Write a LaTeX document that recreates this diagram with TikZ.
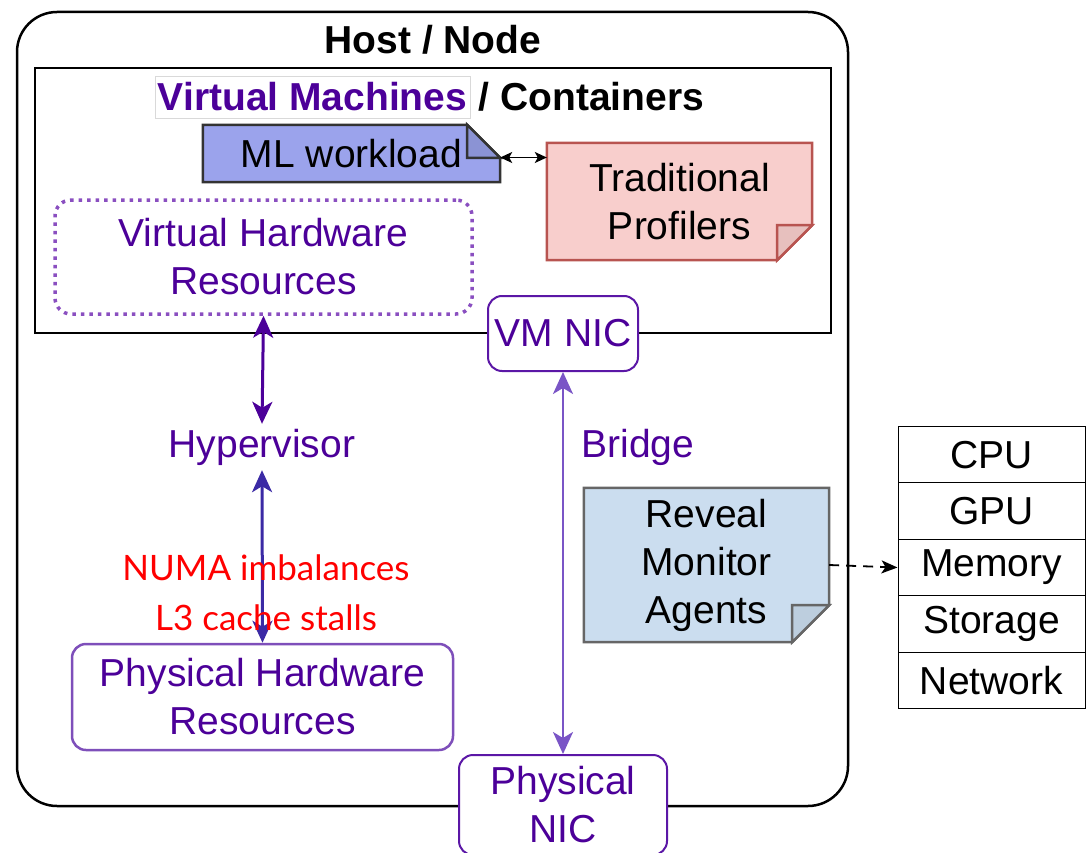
\documentclass[tikz,border=0pt]{standalone}
\usepackage{fontspec}
\setmainfont{Liberation Sans}
\newfontfamily\numafont{Lato}
\usetikzlibrary{arrows.meta,positioning,backgrounds}

\definecolor{vmpurple}{HTML}{4C0099}
\definecolor{dotpurple}{HTML}{8A4FC0}
\definecolor{boxpurple}{HTML}{7E4FBA}
\definecolor{nicpurple}{HTML}{5B17A6}
\definecolor{bridgepurple}{HTML}{7A55C6}
\definecolor{hyparrow}{HTML}{3B2AA5}
\definecolor{mlfill}{HTML}{9BA3EC}
\definecolor{proffill}{HTML}{F8CECC}
\definecolor{profline}{HTML}{B85450}
\definecolor{revfill}{HTML}{CBDDEF}
\definecolor{revline}{HTML}{666666}

\newcommand{\bigtext}{\fontsize{39}{48}\selectfont}

\begin{document}
\begin{tikzpicture}[x=1pt,y=-1pt,
  every node/.style={font=\bigtext, inner sep=0pt, align=center},
  hostbox/.style={draw, line width=2.5pt, rounded corners=40pt},
  vmbox/.style={draw, line width=2.5pt},
  hwbox/.style={draw=#1, line width=2.5pt, rounded corners=14pt, fill=white, text=vmpurple},
  resbox/.style={draw=dotpurple, line width=3.5pt, dash pattern=on 3.5pt off 5pt, rounded corners=16pt, text=vmpurple},
  rescell/.style={draw, line width=1pt, minimum width=187pt, minimum height=56.4pt},
  biarrow/.style={line width=3pt, {Stealth[length=22pt,width=20pt,inset=6pt]}-{Stealth[length=22pt,width=20pt,inset=6pt]}},
  note/.style={line width=2.5pt, line join=miter}
 ]

\useasboundingbox (0,0) rectangle (1086,853);

% host and vm frames
\node[hostbox, minimum width=831pt, minimum height=794pt] (host) at (432.5,409) {};
\node[font=\bigtext\bfseries] (hosttitle) at (433,40) {Host / Node};
\node[vmbox, minimum width=796pt, minimum height=265pt] (vm) at (433,200.5) {};
\node[draw=black!15, line width=0.8pt, minimum width=315pt, minimum height=42pt, text=vmpurple,
  font=\bigtext\bfseries] (vmlabel) at (312.5,97) {Virtual Machines};
\node[font=\bigtext\bfseries, right=8pt of vmlabel] (containers) {/ Containers};

% notes
\node[minimum width=297pt, minimum height=57pt] (ml) at (351.5,153.5) {ML workload};
\node[minimum width=265pt, minimum height=117pt] (prof) at (679.5,201.5) {Traditional\\Profilers};
\node[minimum width=245pt, minimum height=154pt] (reveal) at (706.5,565) {Reveal\\Monitor\\Agents};

\begin{pgfonlayer}{background}
 \draw[note, draw=black!80, fill=mlfill] (ml.south west) -- (ml.north west) -- ([xshift=-33pt]ml.north east)
  -- ([yshift=-33pt]ml.north east) -- (ml.south east) -- cycle;
 \draw[note, draw=black!80, fill=mlfill!90!black] ([xshift=-33pt]ml.north east) -- ([xshift=-33pt,yshift=-33pt]ml.north east)
  -- ([yshift=-33pt]ml.north east) -- cycle;
 \draw[note, draw=profline, fill=proffill] (prof.south west) -- (prof.north west) -- (prof.north east)
  -- ([yshift=35pt]prof.south east) -- ([xshift=-35pt]prof.south east) -- cycle;
 \draw[note, draw=profline, fill=proffill!93!black] ([yshift=35pt]prof.south east) -- ([xshift=-35pt,yshift=35pt]prof.south east)
  -- ([xshift=-35pt]prof.south east) -- cycle;
 \draw[note, draw=revline, fill=revfill] (reveal.south west) -- (reveal.north west) -- (reveal.north east)
  -- ([yshift=37pt]reveal.south east) -- ([xshift=-37pt]reveal.south east) -- cycle;
 \draw[note, draw=revline, fill=revfill!93!black] ([yshift=37pt]reveal.south east) -- ([xshift=-37pt,yshift=37pt]reveal.south east)
  -- ([xshift=-37pt]reveal.south east) -- cycle;
\end{pgfonlayer}

% hardware
\node[resbox, minimum width=417pt, minimum height=114pt] (vhw) at (263.5,257) {Virtual Hardware\\Resources};
\node[text=vmpurple, minimum height=46pt] (hyp) at (262,447) {Hypervisor};
\node[hwbox=boxpurple, minimum width=381pt, minimum height=106pt] (phw) at (262.5,697) {Physical Hardware\\Resources};
\node[hwbox=nicpurple, line width=2pt, minimum width=150pt, minimum height=75pt] (vmnic) at (563,333.5) {VM NIC};
\node[hwbox=nicpurple, line width=2pt, minimum width=208pt, minimum height=100pt] (pnic) at (563,805) {Physical\\NIC};
\node[text=vmpurple] (bridge) at (638,447) {Bridge};

% resource table
\foreach \name/\lbl [count=\i from 0] in {cpu/CPU,gpu/GPU,mem/Memory,sto/Storage,net/Network} {
 \node[rescell] (\name) at (991.5,454.7+56.4*\i) {\lbl};
}

% connectors
\draw[biarrow, draw=vmpurple, fill=vmpurple] (vhw.south) -- (hyp.north);
\draw[biarrow, draw=hyparrow, fill=hyparrow] (hyp.south) -- (phw.north);
\draw[biarrow, draw=bridgepurple, fill=bridgepurple, line width=2.5pt] (vmnic.south) -- (pnic.north);
\draw[line width=1.5pt, {Stealth[length=12pt,width=11pt,inset=3pt]}-{Stealth[length=12pt,width=11pt,inset=3pt]}]
 ([yshift=-4pt]ml.east) -- ([yshift=-4pt]ml.east -| prof.west);
\draw[line width=1.8pt, dash pattern=on 10pt off 7pt, -{Stealth[length=16pt,width=13pt,inset=4pt]}] (reveal.east) -- (mem.west);

\node[font=\numafont\fontsize{35}{50}\selectfont, text=red] (stalls) at (266,593) {NUMA imbalances\\L3 cache stalls};

\end{tikzpicture}
\end{document}
